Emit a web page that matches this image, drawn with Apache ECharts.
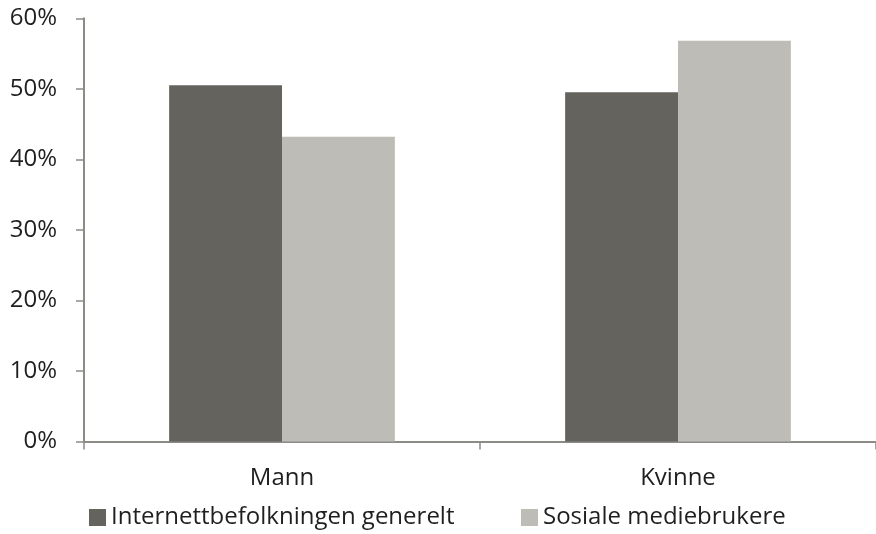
<!DOCTYPE html>
<html>
<head>
<meta charset="utf-8">
<script src="https://cdn.jsdelivr.net/npm/echarts@6/dist/echarts.min.js"></script>
<style>
  html, body { margin: 0; padding: 0; background: #fff; }
  #chart { width: 876px; height: 534px; }
</style>
</head>
<body>
<div id="chart"></div>
<script>
// Andel menn og kvinner: internettbefolkningen vs. brukere av sosiale medier
const categories = ['Mann', 'Kvinne'];
const seriesNames = ['Internettbefolkningen generelt', 'Sosiale mediebrukere'];
const internettbefolkningen = [50.5, 49.5];
const sosialeMedier = [43.2, 56.8];
const yTicks = [0, 10, 20, 30, 40, 50, 60];

const axisColor = '#8d8b86';
const textColor = '#1f1f1f';
const fontFamily = '"Open Sans", "Liberation Sans", sans-serif';

const legendStyle = {
  top: 505.5,
  orient: 'horizontal',
  padding: 0,
  itemWidth: 17,
  itemHeight: 17,
  icon: 'rect',
  textStyle: { fontSize: 24, lineHeight: 24, color: textColor, fontFamily: fontFamily }
};

const chart = echarts.init(document.getElementById('chart'), null, { renderer: 'canvas' });
chart.setOption({
  animation: false,
  backgroundColor: '#ffffff',
  textStyle: { fontFamily: fontFamily },
  grid: { left: 84, right: 0, top: 18.3, bottom: 92.5 },
  legend: [
    Object.assign({ left: 89, data: [seriesNames[0]] }, legendStyle),
    Object.assign({ left: 521, data: [seriesNames[1]] }, legendStyle)
  ],
  xAxis: {
    type: 'category',
    data: categories,
    axisLine: { lineStyle: { color: axisColor, width: 2 } },
    axisTick: { show: true, length: 8, lineStyle: { color: axisColor, width: 1.5 } },
    axisLabel: { color: textColor, fontSize: 24, margin: 25, fontFamily: fontFamily }
  },
  yAxis: {
    type: 'value',
    min: yTicks[0],
    max: yTicks[yTicks.length - 1],
    interval: 10,
    splitLine: { show: false },
    axisLine: { show: true, lineStyle: { color: axisColor, width: 2 } },
    axisTick: { show: true, length: 8, lineStyle: { color: axisColor, width: 1.5 } },
    axisLabel: {
      color: textColor, fontSize: 24, margin: 27, fontFamily: fontFamily,
      formatter: v => v + '%'
    }
  },
  series: [
    {
      name: seriesNames[0],
      type: 'bar',
      data: internettbefolkningen,
      barGap: '0%',
      barCategoryGap: '43%',
      itemStyle: { color: '#65635e' }
    },
    {
      name: seriesNames[1],
      type: 'bar',
      data: sosialeMedier,
      barGap: '0%',
      barCategoryGap: '43%',
      itemStyle: { color: '#bdbcb7' }
    }
  ]
});
</script>
</body>
</html>
